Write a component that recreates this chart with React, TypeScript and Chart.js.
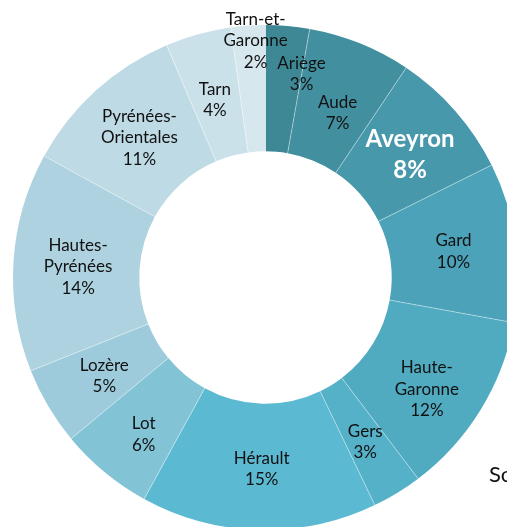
import React, { useEffect, useRef } from "react";
import { Chart, registerables } from "chart.js";

Chart.register(...registerables);

const categories = [
  "Ariège",
  "Aude",
  "Aveyron",
  "Gard",
  "Haute-Garonne",
  "Gers",
  "Hérault",
  "Lot",
  "Lozère",
  "Hautes-Pyrénées",
  "Pyrénées-Orientales",
  "Tarn",
  "Tarn-et-Garonne",
];

// shares (%); labels show the rounded values
const shares = [2.8, 6.6, 8.25, 10.2, 11.8, 3.2, 15.1, 6.0, 5.0, 14.0, 10.6, 4.2, 2.2];

const sliceColors = [
  "#3E8896",
  "#428F9F",
  "#4898AC",
  "#4CA2B8",
  "#50ABC1",
  "#54B1C8",
  "#5BB9D2",
  "#82C3D6",
  "#9DCBDB",
  "#AED2DF",
  "#BEDAE4",
  "#CBE1EA",
  "#D7E7EE",
];

const highlighted = "Aveyron";

// label nudges (px) from the ring mid-point of each slice
const labelNudges: [number, number][] = [
  [19.4, -14.8],
  [1.2, 11.2],
  [2.3, 2.6],
  [0.5, 0.7],
  [0, 12.5],
  [1, 3],
  [1.3, 2.2],
  [-1.3, 11.2],
  [1.7, 2],
  [1.6, 1.2],
  [1, 0.6],
  [0, 4.8],
  [3.2, -47.6],
];

const FONT = "Lato, 'Open Sans', sans-serif";

function splitName(name: string): string[] {
  const i = name.lastIndexOf("-");
  if (i < 0) return [name];
  return [name.slice(0, i + 1), name.slice(i + 1)];
}

const separatorPlugin = {
  id: "separators",
  afterDatasetsDraw(chart: any) {
    const meta = chart.getDatasetMeta(0);
    const ctx = chart.ctx;
    ctx.save();
    ctx.strokeStyle = "rgba(255,255,255,0.4)";
    ctx.lineWidth = 1;
    meta.data.forEach((arc: any) => {
      const { x, y, startAngle, innerRadius, outerRadius } = arc.getProps(
        ["x", "y", "startAngle", "innerRadius", "outerRadius"],
        true
      );
      ctx.beginPath();
      ctx.moveTo(x + innerRadius * Math.cos(startAngle), y + innerRadius * Math.sin(startAngle));
      ctx.lineTo(x + outerRadius * Math.cos(startAngle), y + outerRadius * Math.sin(startAngle));
      ctx.stroke();
    });
    ctx.restore();
  },
};

const labelPlugin = {
  id: "sliceLabels",
  afterDatasetsDraw(chart: any) {
    const meta = chart.getDatasetMeta(0);
    const total = shares.reduce((a, b) => a + b, 0);
    const ctx = chart.ctx;
    ctx.save();
    ctx.textAlign = "center";
    ctx.textBaseline = "middle";
    meta.data.forEach((arc: any, i: number) => {
      const { x, y, startAngle, endAngle, innerRadius, outerRadius } = arc.getProps(
        ["x", "y", "startAngle", "endAngle", "innerRadius", "outerRadius"],
        true
      );
      const mid = (startAngle + endAngle) / 2;
      const r = (innerRadius + outerRadius) / 2;
      const [dx, dy] = labelNudges[i];
      const cx = x + r * Math.cos(mid) + dx;
      const cy = y + r * Math.sin(mid) + dy;
      const isHi = categories[i] === highlighted;
      const pct = Math.round((shares[i] / total) * 100);
      const lines = [...splitName(categories[i]), `${pct}%`];
      const lh = isHi ? 31 : 21.5;
      ctx.font = isHi ? `bold 24px ${FONT}` : `17px ${FONT}`;
      ctx.fillStyle = isHi ? "#FFFFFF" : "#111111";
      const top = cy - ((lines.length - 1) * lh) / 2;
      lines.forEach((t, k) => ctx.fillText(t, cx, top + k * lh));
    });
    ctx.restore();
  },
};

export default function App() {
  const ref = useRef<HTMLCanvasElement>(null);
  useEffect(() => {
    if (!ref.current) return;
    const chart = new Chart(ref.current, {
      type: "doughnut",
      data: {
        labels: categories,
        datasets: [
          {
            data: shares,
            backgroundColor: sliceColors,
            borderWidth: 0,
          },
        ],
      },
      options: {
        responsive: false,
        animation: false,
        cutout: "50%",
        layout: { padding: { left: 13, top: 25, right: 12, bottom: 5 } },
        plugins: {
          legend: { display: false },
          tooltip: { enabled: false },
        },
      },
      plugins: [separatorPlugin, labelPlugin],
    });
    return () => chart.destroy();
  }, []);

  return (
    <div
      style={{
        position: "absolute",
        left: 0,
        top: 0,
        width: 507,
        height: 527,
        overflow: "hidden",
        background: "#fff",
      }}
    >
      <canvas
        ref={ref}
        width={530}
        height={535}
        style={{ position: "absolute", left: 0, top: 0, width: 530, height: 535 }}
      />
      <div
        style={{
          position: "absolute",
          left: 489,
          top: 463,
          fontFamily: FONT,
          fontSize: 22,
          lineHeight: "22px",
          color: "#111",
          whiteSpace: "nowrap",
        }}
      >
        Source : INSEE
      </div>
    </div>
  );
}
